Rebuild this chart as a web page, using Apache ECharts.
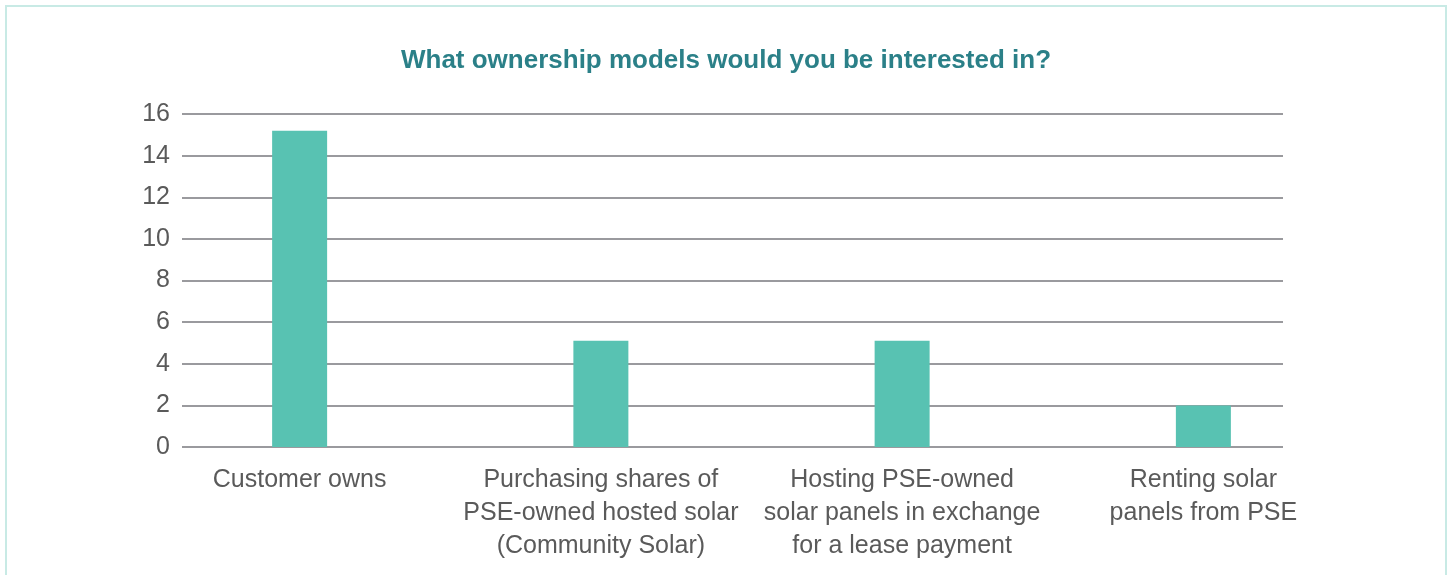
<!DOCTYPE html>
<html>
<head>
<meta charset="utf-8">
<script src="https://cdn.jsdelivr.net/npm/echarts@6/dist/echarts.min.js"></script>
<style>
  html, body { margin: 0; padding: 0; background: #fff; }
  #frame {
    position: absolute; left: 5px; top: 5px; width: 1438px; height: 620px;
    border: 2px solid #c8eae5; box-sizing: content-box;
  }
  #main { position: absolute; left: 0; top: 0; width: 1452px; height: 575px; }
</style>
</head>
<body>
<div id="frame"></div>
<div id="main"></div>
<script>
var titleText = 'What ownership models would you be interested in?';
var categories = [
  'Customer owns',
  'Purchasing shares of\nPSE-owned hosted solar\n(Community Solar)',
  'Hosting PSE-owned\nsolar panels in exchange\nfor a lease payment',
  'Renting solar\npanels from PSE'
];
var responses = [15.2, 5.1, 5.1, 2];

var chartDom = document.getElementById('main');
var myChart = echarts.init(chartDom);

var labelFont = '"Liberation Sans", "Helvetica Neue", Arial, sans-serif';

var option = {
  animation: false,
  title: {
    text: titleText,
    left: 'center',
    top: 43,
    textStyle: {
      color: '#2b8088',
      fontSize: 26,
      fontWeight: 'bold',
      fontFamily: labelFont
    }
  },
  grid: [
    // grid lines + y labels
    { left: 182, right: 169, top: 114, bottom: 128 },
    // bars + category labels
    { left: 149, right: 98, top: 114, bottom: 128 }
  ],
  xAxis: [
    { type: 'category', gridIndex: 0, data: categories, show: false },
    {
      type: 'category',
      gridIndex: 1,
      data: categories,
      axisLine: { show: false },
      axisTick: { show: false },
      axisLabel: {
        interval: 0,
        margin: 17,
        color: '#5a5a5a',
        fontSize: 25,
        lineHeight: 33,
        fontFamily: labelFont
      }
    }
  ],
  yAxis: [
    {
      type: 'value',
      gridIndex: 0,
      min: 0,
      max: 16,
      interval: 2,
      axisLine: { show: false },
      axisTick: { show: false },
      axisLabel: {
        margin: 12,
        color: '#5a5a5a',
        fontSize: 25,
        fontFamily: labelFont
      },
      splitLine: { lineStyle: { color: '#9a9a9e', width: 2 } }
    },
    {
      type: 'value',
      gridIndex: 1,
      min: 0,
      max: 16,
      interval: 2,
      show: false
    }
  ],
  series: [
    {
      type: 'bar',
      xAxisIndex: 1,
      yAxisIndex: 1,
      barWidth: 55,
      itemStyle: { color: '#58c2b2' },
      data: responses
    }
  ]
};

myChart.setOption(option);
</script>
</body>
</html>
